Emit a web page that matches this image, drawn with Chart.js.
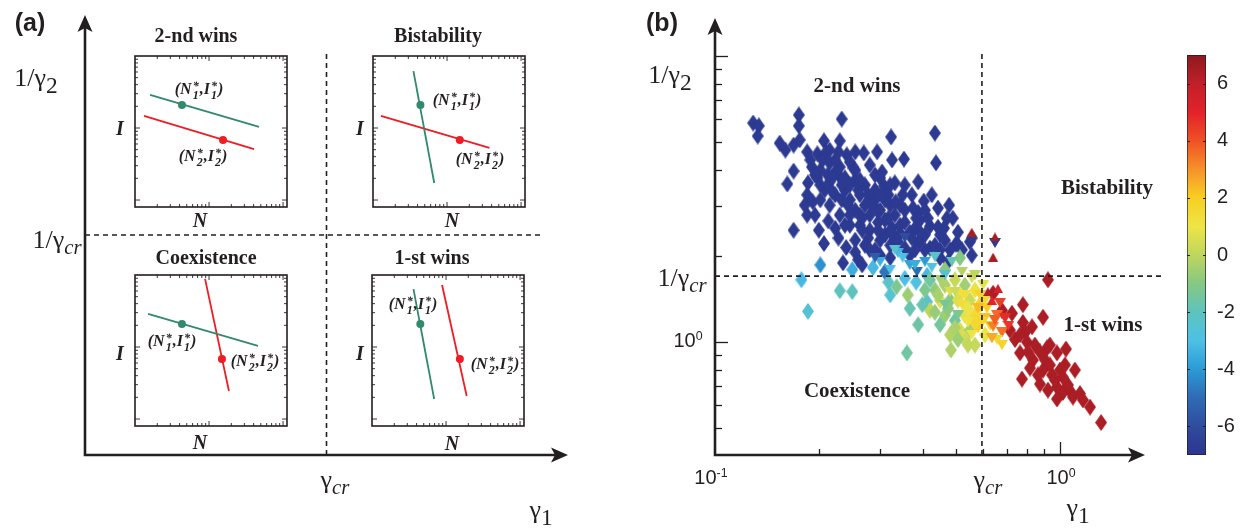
<!DOCTYPE html>
<html>
<head>
<meta charset="utf-8">
<script src="https://cdn.jsdelivr.net/npm/chart.js@4.4.1/dist/chart.umd.min.js"></script>
<style>
html, body { margin: 0; padding: 0; background: #fff; }
#wrap { position: relative; width: 1245px; height: 528px; overflow: hidden; }
canvas { position: absolute; }
.t { position: absolute; transform: translate(-50%, -50%); white-space: nowrap; color: #231f20; line-height: 1; }
.serif { font-family: "Liberation Serif", "Times New Roman", serif; }
.sans { font-family: "Liberation Sans", Arial, sans-serif; }
.bold { font-weight: bold; }
.bi { font-weight: bold; font-style: italic; }
.sb { position: relative; top: 0.32em; font-size: 0.9em; }
.cr { position: relative; top: 0.3em; font-size: 0.8em; font-style: italic; }
.sp { position: relative; top: -0.55em; font-size: 0.62em; }
.ss { display: inline-flex; flex-direction: column; font-size: 0.75em; line-height: 0.7; vertical-align: 0.3em; margin: 0 1px; }
</style>
</head>
<body>
<div id="wrap">
  <canvas id="chartA" style="left:0;top:0" width="620" height="528"></canvas>
  <canvas id="chartB" style="left:620px;top:0" width="560" height="528"></canvas>
  <canvas id="chartBar" style="left:1150px;top:40px" width="95" height="430"></canvas>
</div>
<script>
const ink = '#231f20';

// ---------- panel (b): points, [gamma1, 1/gamma2]
const blueValue = -6.8;
const blueDiamonds = [[0.129,5.83],[0.134,5.70],[0.133,5.25],[0.175,6.22],[0.175,5.70],[0.233,6.02],[0.154,4.96],[0.160,4.69],[0.169,4.88],[0.185,4.62],[0.198,4.55],[0.207,5.05],[0.210,4.62],[0.230,5.05],[0.228,4.62],[0.241,4.51],[0.255,4.62],[0.270,4.58],[0.295,4.62],[0.324,5.21],[0.169,3.96],[0.162,3.57],[0.191,4.09],[0.202,3.99],[0.215,4.23],[0.230,4.09],[0.252,4.06],[0.186,3.60],[0.198,3.75],[0.215,3.63],[0.230,3.78],[0.301,3.75],[0.332,3.60],[0.185,3.27],[0.192,3.09],[0.185,2.78],[0.195,2.78],[0.169,2.46],[0.207,2.21],[0.240,2.14],[0.434,5.38],[0.353,4.36],[0.437,4.23],[0.309,3.51],[0.350,3.27],[0.403,3.11],[0.375,2.94],[0.383,2.71],[0.420,2.54],[0.443,2.52],[0.470,2.71],[0.489,2.71],[0.449,2.37],[0.499,2.20],[0.548,2.24],[0.388,2.21],[0.344,2.40],[0.235,1.89],[0.260,1.94],[0.503,2.21],[0.555,2.31],[0.555,2.01],[0.208,3.40],[0.223,3.27],[0.238,3.40],[0.246,3.14],[0.263,3.27],[0.255,2.89],[0.272,3.01],[0.281,2.78],[0.291,3.14],[0.301,2.89],[0.311,2.67],[0.322,3.01],[0.332,2.78],[0.344,2.56],[0.355,2.89],[0.367,2.42],[0.380,2.50],[0.393,2.27],[0.406,2.37],[0.420,2.13],[0.434,2.18],[0.464,2.27],[0.480,2.10],[0.281,2.46],[0.263,2.56],[0.246,2.56],[0.230,2.78],[0.215,3.01],[0.202,3.14],[0.272,3.54],[0.291,3.40],[0.255,3.69],[0.238,3.75],[0.223,3.93],[0.318,3.27],[0.301,2.27],[0.322,2.18],[0.355,2.13],[0.332,2.31],[0.291,2.10],[0.272,2.18],[0.372,3.27],[0.223,2.50],[0.267,1.86],[0.474,1.91],[0.449,1.97],[0.246,3.54],[0.311,3.14],[0.344,3.01],[0.393,2.67],[0.263,2.78],[0.406,2.10],[0.367,2.01],[0.322,1.97],
  [0.281,4.16],[0.260,3.40],[0.243,3.01],[0.267,2.71],[0.297,2.62],[0.326,2.50],[0.355,2.62],[0.388,2.84],[0.414,2.71],[0.443,2.94],[0.334,3.09],[0.305,3.93],[0.326,4.33],[0.388,3.63],[0.425,3.27],[0.461,2.50],[0.506,2.42],[0.520,2.10],[0.449,2.10],[0.380,2.10],[0.311,2.37],[0.278,2.31],[0.255,2.27],[0.228,2.31],[0.213,2.65],[0.200,2.46],[0.182,3.01],[0.202,3.54],[0.218,3.75],[0.189,4.33],[0.176,5.09],[0.215,4.69],[0.246,4.26],[0.291,3.84],[0.322,3.54],[0.355,3.54],[0.406,2.89],[0.477,3.01],[0.281,2.10],[0.255,2.06],[0.301,2.01],
  [0.205,4.33],[0.223,4.33],[0.195,3.84],[0.212,3.84],[0.233,3.54],[0.255,3.99],[0.278,3.27],[0.246,2.78],[0.267,2.46],[0.297,2.46],[0.318,2.71],[0.339,2.24],[0.285,3.01],[0.305,3.27],[0.233,3.14],[0.219,3.35],[0.263,3.69],[0.238,2.56],[0.297,2.86],[0.322,2.44],[0.372,2.31],[0.393,2.42]];

const redValue = 6.4;
const redDiamonds = [[0.923,1.65],[0.640,1.48],[0.781,1.35],[0.893,1.22],[0.679,1.29],[0.726,1.26],[0.781,1.17],[0.830,1.13],[0.917,0.953],[0.980,0.916],[1.041,0.945],[0.802,1.00],[0.766,0.916],[0.835,0.865],[0.893,0.798],[0.776,0.742],[0.875,0.713],[0.948,0.767],[1.000,0.798],[1.020,0.754],[1.105,0.798],[0.980,0.696],[1.020,0.666],[0.980,0.632],[1.083,0.660],[1.143,0.660],[1.166,0.627],[1.222,0.592],[1.316,0.523],[1.090,0.642],[0.716,1.10],[0.741,1.02],[0.792,1.08],[0.846,0.976],[0.875,0.923],[0.819,0.811],[0.905,0.865],[0.935,0.831],[0.967,0.736],[0.863,0.767],[1.055,0.707],[0.923,0.679],[1.034,0.831],[0.766,1.06],[0.808,0.923],[0.935,0.976]];

const mixedDiamonds = [[0.202,1.86],[0.250,1.79],[0.287,1.82],[0.178,1.65],[0.311,1.76],[0.186,1.28],[0.230,1.51],[0.250,1.50],[0.322,1.46],[0.336,1.56],[0.362,1.46],[0.367,1.31],[0.412,1.38],[0.388,1.15],[0.360,0.916],[0.483,0.938],[0.513,1.97],[0.412,1.71],[0.434,1.52],[0.464,1.58],[0.496,1.65],[0.530,1.58],[0.449,1.40],[0.480,1.40],[0.513,1.46],[0.548,1.40],[0.567,1.52],[0.420,1.29],[0.464,1.24],[0.496,1.19],[0.530,1.24],[0.567,1.24],[0.586,1.35],[0.513,1.10],[0.548,1.10],[0.578,1.15],[0.480,1.06],[0.530,1.02],[0.606,1.06],[0.567,0.976],[0.420,1.65],
  [0.406,1.52],[0.443,1.46],[0.474,1.31],[0.506,1.40],[0.541,1.31],[0.567,1.17],[0.449,1.15],[0.496,1.12],[0.541,0.976],[0.506,1.02],[0.464,1.79],[0.383,1.62],[0.355,1.67],[0.318,1.62],[0.434,1.27],[0.399,1.35]];
const mixedDiamondValues = [-4.2,-3.5,-3.2,-3.2,-4.8,-2.6,-2.0,-2.0,-2.5,-1.2,-0.6,-1.8,-2.5,-1.6,-1.5,-0.3,-1.0,-3.2,-0.8,-0.3,0.2,-0.5,0.5,-1.0,1.0,0.3,1.2,0.0,-0.6,-1.6,0.8,1.5,1.8,0.5,-0.4,2.0,-0.2,0.4,0.9,0.2,-1.5,
  -1.2,-0.4,-0.9,0.6,0.9,1.6,-1.4,-0.3,0.1,-0.6,-0.9,-2.8,-3.0,-2.2,-0.7,-1.8];

const downTriangles = [[0.339,2.05],[0.350,1.97],[0.332,2.10],[0.385,1.76],[0.434,1.98],[0.301,1.91],[0.367,1.86],[0.406,1.91],[0.322,1.79],[0.464,1.71],[0.648,2.22],[0.355,2.31],[0.291,1.97],[0.449,1.65],[0.480,1.50],[0.520,1.35],[0.555,1.67],[0.506,1.24],[0.586,1.46],[0.606,1.21],[0.541,1.17],[0.627,1.14],[0.640,1.13],[0.679,1.08],[0.657,1.24],[0.679,0.976],[0.657,1.02],[0.614,1.31],[0.594,1.17],[0.670,1.37],
  [0.380,1.86],[0.425,1.82],[0.486,1.91],[0.520,1.76],[0.496,1.50],[0.464,1.35],[0.530,1.46],[0.578,1.31],[0.555,1.06],[0.606,1.40],[0.599,1.58],[0.567,1.71],[0.648,1.19],[0.635,1.03],[0.709,1.14],[0.693,1.21]];
const downTriangleValues = [-3.3,-3.0,-2.4,-5.0,-2.2,-3.5,-3.8,-4.0,-3.0,-2.6,-6.8,-6.0,-5.5,-0.5,0.6,1.4,0.5,-1.2,1.8,2.2,1.1,1.9,3.3,3.5,3.6,1.8,1.6,2.0,1.7,4.4,
  -3.5,-2.8,-1.8,-0.2,0.3,-1.4,1.3,2.3,1.0,1.5,0.8,0.0,3.8,2.6,4.6,4.8];

const upTriangles = [[0.555,2.42],[0.648,2.33],[0.640,1.98],[0.618,1.50],[0.635,1.40],[0.661,1.54]];
const upTriangleValues = [6.5,6.5,6.5,6.2,5.0,5.5];

const gammaCr = 0.594;
const invGammaCr = 1.70;
const xTickVals = [0.2, 0.3, 0.4, 0.5, 0.6, 0.7, 0.8, 0.9, 1];
const yTickVals = [0.5, 0.6, 0.7, 0.8, 0.9, 1, 2, 3, 4, 5, 6, 7, 8, 9, 10];
const majorTicks = [1, 10];

// colour bar
const cbarRange = [-7, 7];
const cbarTicks = [-6, -4, -2, 0, 2, 4, 6];
const cmapVals = [-7, -6, -5, -4, -3, -2, -1, 0, 1, 2, 3, 4, 5, 6, 7];
const cmapColors = ['#2d358f', '#2f4c9e', '#2f6bb4', '#2c9ad6', '#4ec0e6', '#5ec3be', '#86c883', '#bed65e',
  '#eee545', '#f8cf22', '#f5922a', '#ef5125', '#e3222a', '#c0202a', '#8b1a1e'];

// ---------- panel (a): schematic
const aGammaCr = 5.0;
const aInvGammaCr = 5.0;
const insetNames = ['2-nd wins', 'Bistability', 'Coexistence', '1-st wins'];
const greenStart = [[0.99, 7.42], [2.66, 9.00], [0.86, 7.42], [2.73, 9.07]];
const greenEnd = [[8.16, 5.30], [4.03, 1.59], [8.09, 5.30], [4.09, 1.79]];
const greenFix = [[3.09, 6.75], [3.12, 6.75], [3.09, 6.75], [3.18, 6.75]];
const redStart = [[0.59, 6.03], [0.52, 6.03], [4.61, 9.74], [4.61, 9.34]];
const redEnd = [[7.83, 3.84], [7.66, 3.91], [6.18, 2.32], [6.23, 1.99]];
const redFix = [[5.79, 4.44], [5.71, 4.44], [5.72, 4.44], [5.78, 4.44]];
const insetTicks = [1, 2, 3, 4, 5, 6, 7, 8, 9, 10, 20, 30, 40, 50, 60, 70, 80, 90, 100];

const greenCol = '#2f8a6e';
const redCol = '#ee1c25';

// colour map
function hexRgb(h) {
  return [parseInt(h.slice(1, 3), 16), parseInt(h.slice(3, 5), 16), parseInt(h.slice(5, 7), 16)];
}
function cmap(v) {
  v = Math.max(cmapVals[0], Math.min(cmapVals[cmapVals.length - 1], v));
  let i = 0;
  while (i < cmapVals.length - 2 && v > cmapVals[i + 1]) i++;
  const t = (v - cmapVals[i]) / (cmapVals[i + 1] - cmapVals[i]);
  const a = hexRgb(cmapColors[i]), b = hexRgb(cmapColors[i + 1]);
  const c = a.map((q, k) => Math.round(q + (b[k] - q) * t));
  return 'rgb(' + c.join(',') + ')';
}

// marker images (diamond and triangles)
const markerCache = {};
function marker(shape, v) {
  const col = cmap(v);
  const key = shape + col;
  if (markerCache[key]) return markerCache[key];
  const c = document.createElement('canvas');
  let pts;
  if (shape === 'diamond') { c.width = 12; c.height = 17; pts = [[6, 0], [12, 8.5], [6, 17], [0, 8.5]]; }
  else if (shape === 'down') { c.width = 12; c.height = 10; pts = [[0, 0], [12, 0], [6, 10]]; }
  else { c.width = 10; c.height = 9; pts = [[5, 0], [10, 9], [0, 9]]; }
  const g = c.getContext('2d');
  g.fillStyle = col;
  g.beginPath();
  pts.forEach((p, i) => i ? g.lineTo(p[0], p[1]) : g.moveTo(p[0], p[1]));
  g.closePath();
  g.fill();
  markerCache[key] = c;
  return c;
}

function arrowHead(ctx, x, y, dir) {
  ctx.beginPath();
  if (dir === 'up') {
    ctx.moveTo(x, y); ctx.lineTo(x - 7.5, y + 17); ctx.lineTo(x, y + 13); ctx.lineTo(x + 7.5, y + 17);
  } else {
    ctx.moveTo(x, y); ctx.lineTo(x - 17, y - 7.5); ctx.lineTo(x - 13, y); ctx.lineTo(x - 17, y + 7.5);
  }
  ctx.closePath();
  ctx.fill();
}

function drawArrowAxes(chart) {
  const { ctx, chartArea: a } = chart;
  ctx.save();
  ctx.strokeStyle = ink;
  ctx.fillStyle = ink;
  ctx.lineWidth = 2.6;
  ctx.beginPath();
  ctx.moveTo(a.left, a.top + 12);
  ctx.lineTo(a.left, a.bottom);
  ctx.lineTo(a.right - 12, a.bottom);
  ctx.stroke();
  arrowHead(ctx, a.left, a.top, 'up');
  arrowHead(ctx, a.right, a.bottom, 'right');
  ctx.restore();
}

const axesA = { id: 'axesA', afterDraw: drawArrowAxes };

const axesB = {
  id: 'axesB',
  afterDraw(chart) {
    drawArrowAxes(chart);
    const { ctx, chartArea: a, scales: { x, y } } = chart;
    ctx.save();
    ctx.strokeStyle = ink;
    ctx.lineWidth = 1.3;
    yTickVals.forEach(v => {
      const py = Math.round(y.getPixelForValue(v)) + 0.5;
      const len = majorTicks.includes(v) ? 13 : 7;
      ctx.beginPath(); ctx.moveTo(a.left, py); ctx.lineTo(a.left + len, py); ctx.stroke();
    });
    xTickVals.forEach(v => {
      const px = Math.round(x.getPixelForValue(v)) + 0.5;
      const len = majorTicks.includes(v) ? 13 : 6;
      ctx.beginPath(); ctx.moveTo(px, a.bottom); ctx.lineTo(px, a.bottom - len); ctx.stroke();
    });
    ctx.restore();
  }
};

const insetFrame = {
  id: 'insetFrame',
  afterDraw(chart) {
    const { ctx, chartArea: a, scales: { lx, ly } } = chart;
    ctx.save();
    ctx.strokeStyle = ink;
    ctx.lineWidth = 1.6;
    ctx.strokeRect(a.left, a.top, a.right - a.left, a.bottom - a.top);
    ctx.lineWidth = 0.9;
    insetTicks.forEach(v => {
      const major = Math.abs(Math.log10(v) - Math.round(Math.log10(v))) < 1e-9;
      const len = major ? 5 : 3;
      const px = lx.getPixelForValue(v);
      if (px > a.left + 1 && px < a.right - 1) {
        ctx.beginPath();
        ctx.moveTo(px, a.bottom); ctx.lineTo(px, a.bottom - len);
        ctx.moveTo(px, a.top); ctx.lineTo(px, a.top + len);
        ctx.stroke();
      }
      const py = ly.getPixelForValue(v);
      if (py > a.top + 1 && py < a.bottom - 1) {
        ctx.beginPath();
        ctx.moveTo(a.left, py); ctx.lineTo(a.left + len, py);
        ctx.moveTo(a.right, py); ctx.lineTo(a.right - len, py);
        ctx.stroke();
      }
    });
    ctx.restore();
  }
};

const cbarTicksPlugin = {
  id: 'cbarTicks',
  afterDraw(chart) {
    const { ctx, chartArea: a, scales: { y } } = chart;
    ctx.save();
    ctx.strokeStyle = ink;
    ctx.lineWidth = 1;
    cbarTicks.forEach(v => {
      const py = Math.round(y.getPixelForValue(v)) + 0.5;
      ctx.beginPath();
      ctx.moveTo(a.left, py); ctx.lineTo(a.left + 3, py);
      ctx.moveTo(a.right, py); ctx.lineTo(a.right - 3, py);
      ctx.stroke();
    });
    ctx.restore();
  }
};

const common = {
  responsive: false,
  animation: false,
  events: [],
  plugins: { legend: { display: false }, tooltip: { enabled: false } }
};

function dashed(points) {
  return {
    data: points, showLine: true, borderColor: ink, borderWidth: 1.6,
    borderDash: [5, 4], pointRadius: 0, clip: false
  };
}

// ---------- panel (a)
new Chart(document.getElementById('chartA'), {
  type: 'scatter',
  data: {
    datasets: [
      dashed([{ x: aGammaCr, y: 0 }, { x: aGammaCr, y: 9.14 }]),
      dashed([{ x: 0, y: aInvGammaCr }, { x: 9.46, y: aInvGammaCr }])
    ]
  },
  options: {
    ...common,
    layout: { padding: { left: 85, right: 52, top: 15, bottom: 73 } },
    scales: {
      x: { type: 'linear', min: 0, max: 10, display: false },
      y: { type: 'linear', min: 0, max: 10, display: false }
    }
  },
  plugins: [axesA]
});

// inset boxes
const insetBoxes = [[135, 56], [373, 56], [135, 275], [372, 275]];
const wrap = document.getElementById('wrap');
insetBoxes.forEach((b, i) => {
  const cv = document.createElement('canvas');
  cv.width = 162; cv.height = 161;
  cv.style.left = (b[0] - 5) + 'px';
  cv.style.top = (b[1] - 5) + 'px';
  wrap.appendChild(cv);
  new Chart(cv, {
    type: 'scatter',
    data: {
      datasets: [
        { data: [{ x: greenFix[i][0], y: greenFix[i][1] }], pointRadius: 4, backgroundColor: greenCol, borderWidth: 0 },
        { data: [{ x: redFix[i][0], y: redFix[i][1] }], pointRadius: 4, backgroundColor: redCol, borderWidth: 0 },
        { data: [{ x: greenStart[i][0], y: greenStart[i][1] }, { x: greenEnd[i][0], y: greenEnd[i][1] }],
          showLine: true, borderColor: greenCol, borderWidth: 1.8, pointRadius: 0 },
        { data: [{ x: redStart[i][0], y: redStart[i][1] }, { x: redEnd[i][0], y: redEnd[i][1] }],
          showLine: true, borderColor: redCol, borderWidth: 1.8, pointRadius: 0 }
      ]
    },
    options: {
      ...common,
      layout: { padding: 5 },
      scales: {
        x: { type: 'linear', min: 0, max: 10, display: false },
        y: { type: 'linear', min: 0, max: 10, display: false },
        lx: { type: 'logarithmic', axis: 'x', min: 1, max: 113, display: false },
        ly: { type: 'logarithmic', axis: 'y', min: 0.8, max: 100, display: false }
      }
    },
    plugins: [insetFrame]
  });
});

// ---------- panel (b)
const toXY = p => ({ x: p[0], y: p[1] });
const allDiamonds = blueDiamonds.concat(redDiamonds, mixedDiamonds);
const allDiamondValues = blueDiamonds.map(() => blueValue)
  .concat(redDiamonds.map(() => redValue), mixedDiamondValues);

new Chart(document.getElementById('chartB'), {
  type: 'scatter',
  data: {
    datasets: [
      dashed([{ x: gammaCr, y: 0.403 }, { x: gammaCr, y: 10.2 }]),
      dashed([{ x: 0.1, y: invGammaCr }, { x: 2.0, y: invGammaCr }]),
      { data: upTriangles.map(toXY), pointStyle: upTriangleValues.map(v => marker('up', v)), pointRadius: 5 },
      { data: downTriangles.map(toXY), pointStyle: downTriangleValues.map(v => marker('down', v)), pointRadius: 5 },
      { data: allDiamonds.map(toXY), pointStyle: allDiamondValues.map(v => marker('diamond', v)), pointRadius: 5 }
    ]
  },
  options: {
    ...common,
    layout: { padding: { left: 95, right: 35, top: 18, bottom: 73 } },
    scales: {
      x: { type: 'logarithmic', min: 0.1, max: 1.764, display: false },
      y: { type: 'logarithmic', min: 0.4026, max: 13.58, display: false }
    }
  },
  plugins: [axesB]
});

// colour bar
new Chart(document.getElementById('chartBar'), {
  type: 'bar',
  data: {
    labels: [''],
    datasets: [{
      data: [cbarRange],
      backgroundColor(ctx) {
        const ch = ctx.chart;
        if (!ch.chartArea) return cmapColors[0];
        const y = ch.scales.y;
        const g = ch.ctx.createLinearGradient(0, y.getPixelForValue(cbarRange[0]), 0, y.getPixelForValue(cbarRange[1]));
        cmapVals.forEach((v, i) => g.addColorStop((v - cbarRange[0]) / (cbarRange[1] - cbarRange[0]), cmapColors[i]));
        return g;
      },
      borderColor: ink,
      borderWidth: 1,
      borderSkipped: false,
      barPercentage: 1,
      categoryPercentage: 1
    }]
  },
  options: {
    ...common,
    layout: { padding: { left: 37, right: 0, top: 13, bottom: 15 } },
    scales: {
      x: { display: false },
      y: {
        position: 'right', min: cbarRange[0], max: cbarRange[1],
        ticks: { color: ink, padding: 3,
          font: { family: '"Liberation Sans", Arial, sans-serif', size: 20 } },
        afterBuildTicks(s) { s.ticks = cbarTicks.map(v => ({ value: v })); },
        grid: { display: false },
        border: { display: false },
        afterFit(s) { s.width = 39; }
      }
    }
  },
  plugins: [cbarTicksPlugin]
});

// ---------- text
function ss(a, b) { return '<span class="ss"><span>' + a + '</span><span>' + b + '</span></span>'; }
function fixLabel(k) { return '(N' + ss('*', k) + ',I' + ss('*', k) + ')'; }

const labels = [
  ['(a)', 30, 22, 'sans bold', 25],
  ['1/γ<span class="sb">2</span>', 36, 78, 'serif', 26],
  ['1/γ<span class="cr">cr</span>', 57, 240, 'serif', 26],
  ['γ<span class="cr">cr</span>', 335, 480, 'serif', 26],
  ['γ<span class="sb">1</span>', 541, 510, 'serif', 26],
  [insetNames[0], 196, 35, 'serif bold', 20],
  [insetNames[1], 438, 35, 'serif bold', 20],
  [insetNames[2], 206, 257, 'serif bold', 20],
  [insetNames[3], 432, 257, 'serif bold', 20],
  ['I', 120, 128, 'serif bi', 20], ['I', 360, 128, 'serif bi', 20],
  ['I', 120, 353, 'serif bi', 20], ['I', 360, 353, 'serif bi', 20],
  ['N', 200, 220, 'serif bi', 20], ['N', 452, 220, 'serif bi', 20],
  ['N', 200, 442, 'serif bi', 20], ['N', 452, 443, 'serif bi', 20],
  [fixLabel(1), 199, 90, 'serif bi', 16], [fixLabel(2), 203, 157, 'serif bi', 16],
  [fixLabel(1), 457, 101, 'serif bi', 16], [fixLabel(2), 480, 160, 'serif bi', 16],
  [fixLabel(1), 172, 342, 'serif bi', 16], [fixLabel(2), 255, 362, 'serif bi', 16],
  [fixLabel(1), 413, 305, 'serif bi', 16], [fixLabel(2), 495, 365, 'serif bi', 16],

  ['(b)', 662, 22, 'sans bold', 25],
  ['1/γ<span class="sb">2</span>', 670, 75, 'serif', 26],
  ['1/γ<span class="cr">cr</span>', 682, 278, 'serif', 26],
  ['10<span class="sp">0</span>', 688, 340, 'sans', 20],
  ['10<span class="sp">-1</span>', 711, 477, 'sans', 20],
  ['γ<span class="cr">cr</span>', 988, 480, 'serif', 26],
  ['10<span class="sp">0</span>', 1061, 477, 'sans', 20],
  ['γ<span class="sb">1</span>', 1078, 508, 'serif', 26],
  [insetNames[0], 857, 85, 'serif bold', 21],
  [insetNames[1], 1107, 187, 'serif bold', 21],
  [insetNames[3], 1103, 324, 'serif bold', 21],
  [insetNames[2], 857, 390, 'serif bold', 21]
];
labels.forEach(l => {
  const d = document.createElement('div');
  d.className = 't ' + l[3];
  d.innerHTML = l[0];
  d.style.left = l[1] + 'px';
  d.style.top = l[2] + 'px';
  d.style.fontSize = l[4] + 'px';
  wrap.appendChild(d);
});
</script>
</body>
</html>
